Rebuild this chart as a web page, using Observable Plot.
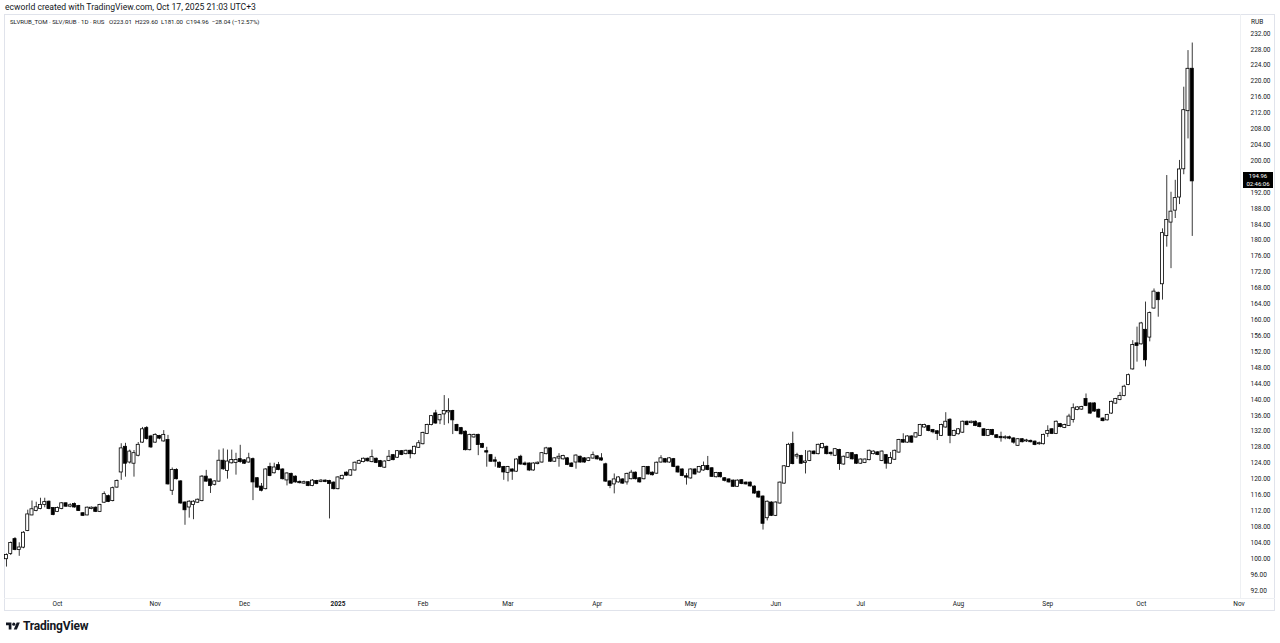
<!DOCTYPE html>
<html><head><meta charset="utf-8">
<script src="https://cdn.jsdelivr.net/npm/d3@7"></script>
<script src="https://cdn.jsdelivr.net/npm/@observablehq/plot@0.6"></script>
<style>
body{margin:0;background:#fff;font-family:Roboto,"Liberation Sans",sans-serif;color:#131722;}
#page{position:relative;width:1280px;height:643px;overflow:hidden;background:#fff;}
#credit{position:absolute;left:5px;top:2px;font-size:8.6px;white-space:nowrap;}
#frame{position:absolute;left:4px;top:14px;width:1271px;height:597px;border:1px solid #e0e3eb;box-sizing:border-box;}
#sepV{position:absolute;left:1240px;top:14px;width:1px;height:584px;background:#eef0f3;}
#sepH{position:absolute;left:4px;top:598px;width:1271px;height:1px;background:#eef0f3;}
#legend{position:absolute;left:10px;top:18px;font-size:6.1px;white-space:nowrap;}
#legend span{margin-left:3px;}
#unit{position:absolute;left:1251px;top:18px;font-size:6.5px;}
#chart{position:absolute;left:0;top:14px;}
#lastbox{position:absolute;left:1243px;width:30px;height:16px;background:#000;color:#fff;font-size:6px;line-height:7.5px;text-align:center;}
#logo{position:absolute;left:6px;top:619px;display:flex;align-items:center;gap:3px;font-weight:700;font-size:12px;letter-spacing:-0.2px;}
</style></head>
<body><div id="page">
<div id="credit">ecworld created with TradingView.com, Oct 17, 2025 21:03 UTC+3</div>
<div id="frame"></div>
<div id="sepV"></div>
<div id="sepH"></div>
<div id="chart"></div>
<div id="legend">SLVRUB_TOM · SLV/RUB · 1D · RUS <span>O223.01</span><span>H229.60</span><span>L181.00</span><span>C194.96</span><span>−28.04 (−12.57%)</span></div>
<div id="unit">RUB</div>
<div id="lastbox"><div>194.96</div><div>02:46:06</div></div>
<div id="logo"><svg width="14" height="11" viewBox="0 0 36 28"><path d="M14 22H7V11H0V4h14v18z" fill="#131722"/><circle cx="20" cy="8" r="4" fill="#131722"/><path d="M28 22h-8l7.5-18h8L28 22z" fill="#131722"/></svg><span>TradingView</span></div>
</div>
<script>
// Daily candles, SLVRUB_TOM (index = trading-day position)
const opens = [100.0,101.3,104.8,102.3,102.9,107.1,111.0,112.1,112.6,113.6,114.2,112.6,111.9,112.6,113.8,113.2,113.6,113.1,111.3,111.0,
112.6,112.7,111.9,114.2,115.6,114.6,118.0,121.8,128.0,124.3,124.0,126.0,129.3,132.7,130.6,129.3,130.7,129.6,129.7,117.2,
122.2,119.3,114.0,113.0,113.6,114.2,114.6,120.5,119.8,118.7,119.5,124.5,122.2,124.1,124.2,124.9,124.6,124.3,124.9,120.1,
118.0,117.6,122.9,121.6,123.4,122.3,119.8,121.2,120.5,119.2,119.0,119.1,118.4,119.4,119.4,119.5,119.4,119.0,117.6,120.1,
121.5,121.0,122.3,124.0,124.4,125.0,124.4,125.0,124.4,123.0,124.7,125.9,125.5,126.9,126.4,127.0,126.4,128.0,128.9,131.5,
133.7,136.4,134.9,136.4,136.9,137.0,133.5,132.7,131.8,127.4,130.6,131.0,128.7,126.9,125.9,124.6,124.0,122.9,121.7,122.3,
122.0,125.5,123.8,123.8,122.3,123.9,124.3,126.4,127.6,124.5,125.3,125.1,125.1,123.8,124.3,125.5,125.1,124.7,125.3,125.6,
125.1,123.6,119.3,118.8,119.3,119.8,119.3,120.1,121.5,120.1,120.1,122.9,121.5,121.5,124.3,124.9,124.3,124.9,123.0,122.3,
120.6,120.3,122.3,121.8,122.3,123.2,122.6,120.6,121.4,120.1,119.8,119.5,118.2,119.6,119.0,119.0,118.0,116.7,115.5,110.3,
114.0,110.9,114.0,119.0,123.2,128.7,125.8,125.7,124.2,124.7,126.8,126.4,127.9,128.0,126.5,126.0,127.2,123.8,125.5,126.4,
125.9,124.0,124.2,124.9,126.4,126.6,124.7,125.9,124.0,125.0,126.8,129.7,129.3,130.6,130.6,131.0,133.1,133.2,132.2,131.9,
131.0,133.1,134.8,131.0,131.4,131.8,134.3,134.2,134.3,133.9,132.4,131.0,132.2,130.9,130.5,130.4,130.4,130.1,128.5,129.9,
129.6,129.5,129.3,128.9,128.9,131.5,132.4,131.5,133.7,133.0,133.5,135.0,137.5,137.6,140.0,138.9,138.9,137.3,135.1,134.9,
136.6,139.1,140.0,141.0,143.8,147.7,154.0,154.0,157.4,155.7,163.0,166.7,169.1,181.2,184.6,187.6,190.9,198.0,212.6,223.01];
const highs = [101.2,104.2,105.3,104.0,106.8,112.2,114.5,114.2,115.2,115.2,114.5,112.8,113.0,114.1,114.0,113.8,114.0,113.4,111.6,113.0,
113.0,113.0,113.7,116.8,116.0,118.0,119.8,128.9,129.0,127.3,127.2,129.2,133.0,133.2,131.0,131.4,131.0,132.2,131.0,122.8,
122.6,119.6,114.3,114.6,114.6,115.0,120.9,122.2,120.0,119.6,127.3,127.6,127.3,127.3,126.5,128.5,124.9,126.5,125.3,120.4,
118.9,122.6,124.0,124.0,124.2,122.6,121.6,121.5,120.8,119.5,119.5,119.4,119.9,119.7,119.9,119.8,119.7,119.3,120.6,121.0,
121.8,122.4,124.3,124.8,125.3,125.3,127.3,125.3,124.7,124.6,127.2,126.2,127.2,127.2,127.3,127.3,128.3,129.7,131.8,133.8,
136.0,137.3,136.3,141.0,140.2,137.3,133.8,133.0,132.1,131.3,131.3,131.3,129.0,128.0,126.2,125.5,124.3,123.2,123.2,122.6,
125.1,126.0,124.3,124.1,124.1,124.3,126.7,128.0,127.9,125.4,126.4,126.0,125.4,124.1,126.1,125.8,125.4,125.4,126.8,125.9,
126.4,124.0,119.6,121.3,120.6,120.1,121.5,122.2,121.8,120.4,123.2,123.2,121.8,124.3,125.9,125.2,125.4,125.2,123.3,122.6,
121.4,122.6,122.6,123.2,124.3,125.7,122.9,121.7,121.7,120.4,120.1,119.8,119.8,119.9,119.3,119.3,118.3,117.0,115.8,114.5,
114.3,114.3,119.3,123.4,129.0,131.8,126.5,126.0,127.2,127.1,127.1,128.8,129.0,128.3,126.8,127.7,127.5,125.8,126.7,126.7,
126.2,125.1,125.1,127.3,127.1,126.9,127.1,126.2,126.7,127.3,130.0,131.4,130.9,130.9,131.7,133.8,133.8,133.5,132.5,132.2,
133.8,136.7,135.2,132.3,132.7,134.6,134.6,134.6,134.6,134.2,132.7,132.5,132.5,131.2,131.8,130.9,130.8,130.4,130.2,130.2,
130.0,129.8,129.6,129.3,131.3,133.4,132.7,134.6,134.0,133.8,136.3,138.9,138.2,138.3,141.4,139.2,139.2,137.6,135.4,136.3,
139.6,140.3,141.8,143.6,146.4,154.8,158.2,159.4,164.5,162.0,167.8,167.0,182.9,196.3,192.1,195.1,200.1,218.5,227.7,229.60];
const lows = [97.9,100.8,102.0,100.6,102.5,106.8,110.8,111.8,112.3,112.8,112.3,110.8,111.6,112.3,112.9,112.8,112.7,111.9,110.6,110.8,
112.3,111.6,111.6,113.9,114.1,114.3,117.7,119.7,120.5,123.8,120.5,125.6,129.0,129.8,127.7,129.0,129.9,129.3,118.5,115.9,
119.8,113.7,108.4,110.2,109.8,113.9,114.3,119.2,116.4,118.3,119.2,122.2,120.0,123.8,121.0,124.0,123.7,124.0,114.6,117.7,
116.8,117.3,120.6,121.3,122.1,119.8,118.3,118.7,119.0,118.8,118.7,118.1,118.1,118.6,119.1,119.1,110.0,117.3,117.3,119.8,
120.7,120.7,122.0,123.7,124.1,124.3,124.1,123.9,122.9,122.7,124.4,124.6,125.2,125.9,126.1,125.1,126.1,127.7,128.6,131.2,
133.4,133.8,133.7,133.5,133.9,131.2,131.9,131.1,127.1,127.1,130.3,125.9,127.7,123.0,124.2,123.0,122.7,119.7,119.3,119.7,
121.7,123.5,123.3,121.9,122.0,123.6,124.0,126.1,124.2,124.2,123.0,124.8,123.4,122.9,122.5,124.0,124.0,124.4,125.0,124.8,
124.5,119.2,117.6,116.3,119.0,118.7,118.5,119.8,119.8,119.0,119.8,121.0,120.8,121.2,124.0,124.0,124.0,122.9,121.5,120.6,
118.5,120.0,121.0,121.5,122.0,122.1,120.4,120.3,120.3,119.3,119.0,117.9,117.9,118.6,118.5,118.0,116.2,115.2,107.2,109.5,
110.6,110.6,113.7,118.7,122.9,123.6,125.0,123.7,121.3,124.4,126.1,126.1,127.6,126.1,125.8,125.7,122.2,123.5,125.2,124.8,
123.7,123.7,123.9,124.6,126.1,125.9,124.4,122.5,123.7,124.7,126.5,129.0,129.0,129.0,130.3,130.7,132.8,131.9,131.4,129.7,
130.7,132.8,128.9,130.7,131.1,131.5,133.4,133.9,133.2,132.9,130.7,130.7,130.9,130.2,129.3,129.9,129.9,128.8,128.2,129.1,
129.2,129.1,128.4,128.5,128.6,130.5,131.2,131.2,132.9,132.7,133.4,134.1,137.2,137.3,138.2,136.3,136.8,135.3,134.4,134.6,
136.3,138.8,139.7,140.7,143.5,147.4,149.4,153.7,148.2,154.5,162.7,160.7,165.0,178.3,172.9,185.5,189.0,196.5,205.5,181.00];
const closes = [100.8,103.8,102.3,102.7,106.4,111.0,112.3,112.8,113.4,114.1,112.6,111.1,112.6,113.8,113.2,113.3,113.0,112.1,110.9,112.7,
112.7,111.9,113.4,116.1,114.4,117.6,119.4,127.6,124.0,126.8,126.4,128.5,132.4,130.2,128.1,131.0,130.3,131.0,118.8,122.2,
120.1,114.0,112.3,114.2,114.2,114.7,120.5,119.5,118.4,119.3,124.5,122.6,124.3,124.7,124.7,124.4,124.0,125.1,119.3,118.0,
117.2,122.3,120.9,122.8,122.4,120.1,121.3,119.0,119.3,119.1,119.1,118.4,119.5,118.9,119.5,119.4,118.9,117.6,120.3,120.7,
121.0,122.1,124.0,124.4,125.0,124.6,125.4,124.2,123.2,124.3,125.5,124.9,126.9,126.2,127.0,126.4,128.0,128.9,131.5,133.5,
135.7,134.1,136.0,137.0,137.0,134.9,132.2,131.4,127.4,131.0,131.0,128.7,128.0,126.8,124.5,124.5,123.0,121.8,122.9,122.0,
124.8,123.8,123.7,122.3,123.8,124.0,126.4,127.6,124.5,125.1,125.5,125.7,123.7,123.2,125.8,124.3,124.3,125.1,125.9,125.1,
124.8,119.5,118.4,119.8,120.3,119.0,121.2,121.5,120.1,119.3,122.9,121.3,121.1,124.0,125.1,124.3,125.1,123.2,121.8,120.9,
120.5,122.3,121.3,122.9,123.2,122.4,120.7,121.4,120.6,119.7,119.3,118.2,119.5,118.9,118.8,118.3,116.5,115.5,108.9,114.2,
110.9,114.0,119.0,123.1,128.5,123.9,125.9,124.0,124.3,126.8,126.4,128.5,128.7,126.4,126.4,127.4,123.9,125.5,126.4,125.1,
124.0,124.8,124.8,127.0,126.8,126.2,126.8,124.0,125.2,127.0,129.7,129.3,130.6,129.3,131.4,133.5,133.5,132.2,131.9,131.5,
133.5,134.3,131.0,132.0,132.4,134.3,133.7,134.3,133.5,133.2,131.0,132.2,131.2,130.5,130.4,130.4,130.3,129.3,129.9,129.4,
129.6,129.4,128.7,128.9,131.0,132.0,131.5,134.3,133.2,133.5,135.6,137.7,137.9,138.0,138.5,136.6,137.1,135.6,134.7,136.0,
139.3,140.0,140.8,143.1,146.0,153.6,153.6,159.0,150.0,161.6,167.0,165.1,181.7,185.0,187.1,190.5,197.7,212.6,223.0,194.96];

// Time-axis labels and the candle index of the first session of each month
const monthLabels = ["Oct","Nov","Dec","2025","Feb","Mar","Apr","May","Jun","Jul","Aug","Sep","Oct","Nov"];
const monthIndex  = [12, 35, 56, 78, 98, 118, 139, 161, 181, 201, 224, 245, 267, 290];
const yearLabels  = ["2025"];

// Price-axis tick values
const priceTicks = [92,96,100,104,108,112,116,120,124,128,132,136,140,144,148,152,156,160,164,168,172,176,180,184,188,192,196,200,204,208,212,216,220,224,228,232];
const lastPrice = 194.96;

const candles = opens.map((o, i) => ({i, open: o, high: highs[i], low: lows[i], close: closes[i]}));
const months = monthLabels.map((label, k) => ({label, i: monthIndex[k], bold: yearLabels.includes(label)}));

const chart = Plot.plot({
  width: 1280,
  height: 598,
  marginLeft: 0,
  marginRight: 40,
  marginTop: 3,
  marginBottom: 14,
  style: {background: "transparent", fontFamily: "Roboto, 'Liberation Sans', sans-serif", color: "#131722"},
  x: {type: "linear", domain: [-1.41, 290.35], axis: null},
  y: {domain: [90, 236.02], axis: null},
  marks: [
    Plot.ruleX(candles, {x: "i", y1: "low", y2: "high", stroke: "#3a3a3a", strokeWidth: 1}),
    Plot.rect(candles, {
      x1: d => d.i - 0.36, x2: d => d.i + 0.36,
      y1: "open", y2: "close",
      fill: d => d.close >= d.open ? "#ffffff" : "#000000",
      stroke: "#000", strokeWidth: 0.8,
      insetTop: -0.5, insetBottom: -0.5
    }),
    Plot.axisY(priceTicks, {anchor: "right", tickSize: 0, tickPadding: 10, textAnchor: "start",
      tickFormat: d => d.toFixed(2), fontSize: 6.5, fill: "#131722"}),
    Plot.text(months.filter(d => !d.bold), {x: "i", text: "label", frameAnchor: "bottom", dy: 7, fontSize: 6.5, fill: "#131722"}),
    Plot.text(months.filter(d => d.bold), {x: "i", text: "label", frameAnchor: "bottom", dy: 7, fontSize: 6.5, fontWeight: "bold", fill: "#131722"})
  ]
});
document.getElementById("chart").appendChild(chart);

const yPix = chart.scale("y").apply(lastPrice) + 14;
const box = document.getElementById("lastbox");
box.style.top = (yPix - 8) + "px";
</script>
</body></html>
